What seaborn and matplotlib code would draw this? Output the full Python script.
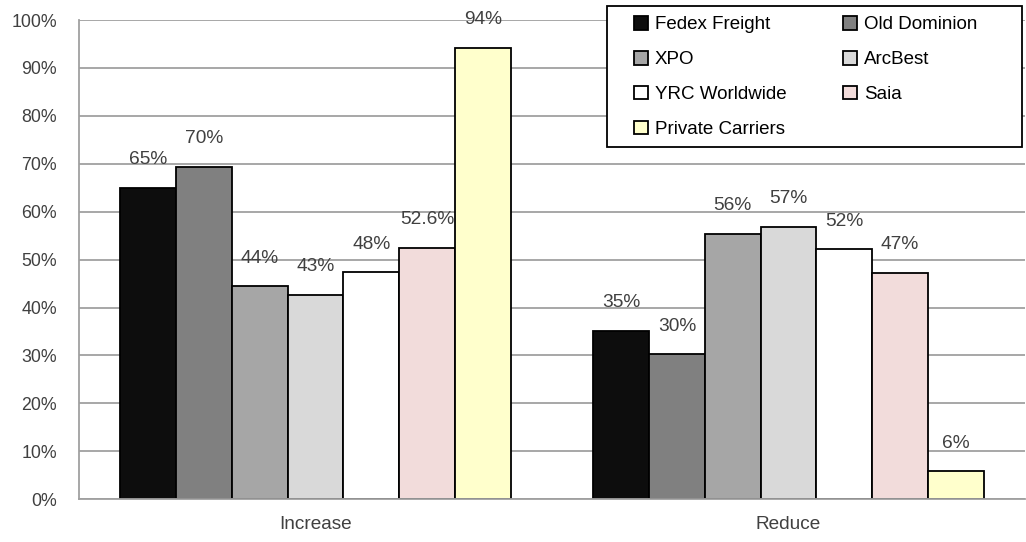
import pandas as pd
import seaborn as sns
import matplotlib.pyplot as plt
from matplotlib.patches import Patch, Rectangle

# dados
categorias = ["Increase", "Reduce"]
transportadoras = ["Fedex Freight", "Old Dominion", "XPO", "ArcBest",
                   "YRC Worldwide", "Saia", "Private Carriers"]
increase = [65.0, 69.4, 44.5, 42.7, 47.4, 52.5, 94.2]
reduce = [35.2, 30.3, 55.4, 56.9, 52.2, 47.3, 5.8]
rotulos_increase = ["65%", "70%", "44%", "43%", "48%", "52.6%", "94%"]
rotulos_reduce = ["35%", "30%", "56%", "57%", "52%", "47%", "6%"]
cores = ["#0d0d0d", "#808080", "#a6a6a6", "#d9d9d9", "#ffffff", "#f2dcdb", "#ffffcc"]

base = pd.DataFrame({
    "categoria": categorias[0:1] * 7 + categorias[1:2] * 7,
    "transportadora": transportadoras * 2,
    "valor": increase + reduce,
})

sns.set_style("white")
plt.rcParams["font.family"] = ["Liberation Sans", "DejaVu Sans"]
cinza_texto = "#404040"
cinza_linha = "#a0a0a0"

fig = plt.figure(figsize=(10.26, 5.42), dpi=100)
ax = fig.add_axes([0.077, 0.079, 0.922, 0.884])

sns.barplot(data=base, x="categoria", y="valor", hue="transportadora",
            hue_order=transportadoras, palette=cores, width=0.825,
            edgecolor="black", linewidth=1.3, saturation=1, ax=ax, legend=False)

# rótulos acima das barras
rotulos = [list(par) for par in zip(rotulos_increase, rotulos_reduce)]
for cont, textos in zip(ax.containers, rotulos):
    for barra, texto in zip(cont, textos):
        x = barra.get_x() + barra.get_width() / 2
        ax.annotate(texto, (x, barra.get_height()), xytext=(0, 14),
                    textcoords="offset points", ha="center", va="bottom",
                    fontsize=13.8, color=cinza_texto)

ax.set_ylim(0, 100)
ax.set_xlim(-0.5, 1.5)
ax.set_yticks(range(0, 101, 10))
ax.set_yticklabels([f"{v}%" for v in range(0, 101, 10)], fontsize=12.8, color=cinza_texto)
ax.set_xticks([0, 1])
ax.set_xticklabels(categorias, fontsize=13.7, color=cinza_texto)
ax.set_xticks([-0.5, 0.5, 1.5], minor=True)
ax.tick_params(axis="x", which="major", length=0, pad=12)
ax.tick_params(axis="x", which="minor", length=5, color=cinza_linha, width=1.3, direction="out")
ax.tick_params(axis="y", length=6, color=cinza_linha, width=1.3, direction="out", pad=10)
ax.set_xlabel("")
ax.set_ylabel("")

ax.grid(axis="y", color=cinza_linha, linewidth=1.3)
ax.set_axisbelow(True)
for lado in ["top", "right"]:
    ax.spines[lado].set_visible(False)
for lado in ["left", "bottom"]:
    ax.spines[lado].set_color(cinza_linha)
    ax.spines[lado].set_linewidth(1.3)

# caixa da legenda
W, H = 1026, 542
fig.patches.append(Rectangle((607 / W, 1 - 147 / H), 415 / W, 141 / H,
                             transform=fig.transFigure, facecolor="white",
                             edgecolor="black", linewidth=1.3, zorder=5))

# legenda em duas colunas, lida por linha
ordem = [0, 2, 4, 6, 1, 3, 5]
handles = [Patch(facecolor=cores[i], edgecolor="black", linewidth=1.3, label=transportadoras[i])
           for i in ordem]
leg = fig.legend(handles=handles, ncol=2, loc="upper left",
                 bbox_to_anchor=(634 / W, 1 - 16 / H), fontsize=13.5, frameon=False,
                 handlelength=0.75, handleheight=0.75, handletextpad=0.37,
                 columnspacing=3.0, labelspacing=0.93, borderpad=0,
                 borderaxespad=0)
leg.set_zorder(6)
for t in leg.get_texts():
    t.set_color("black")

plt.savefig("out.png", dpi=100)
